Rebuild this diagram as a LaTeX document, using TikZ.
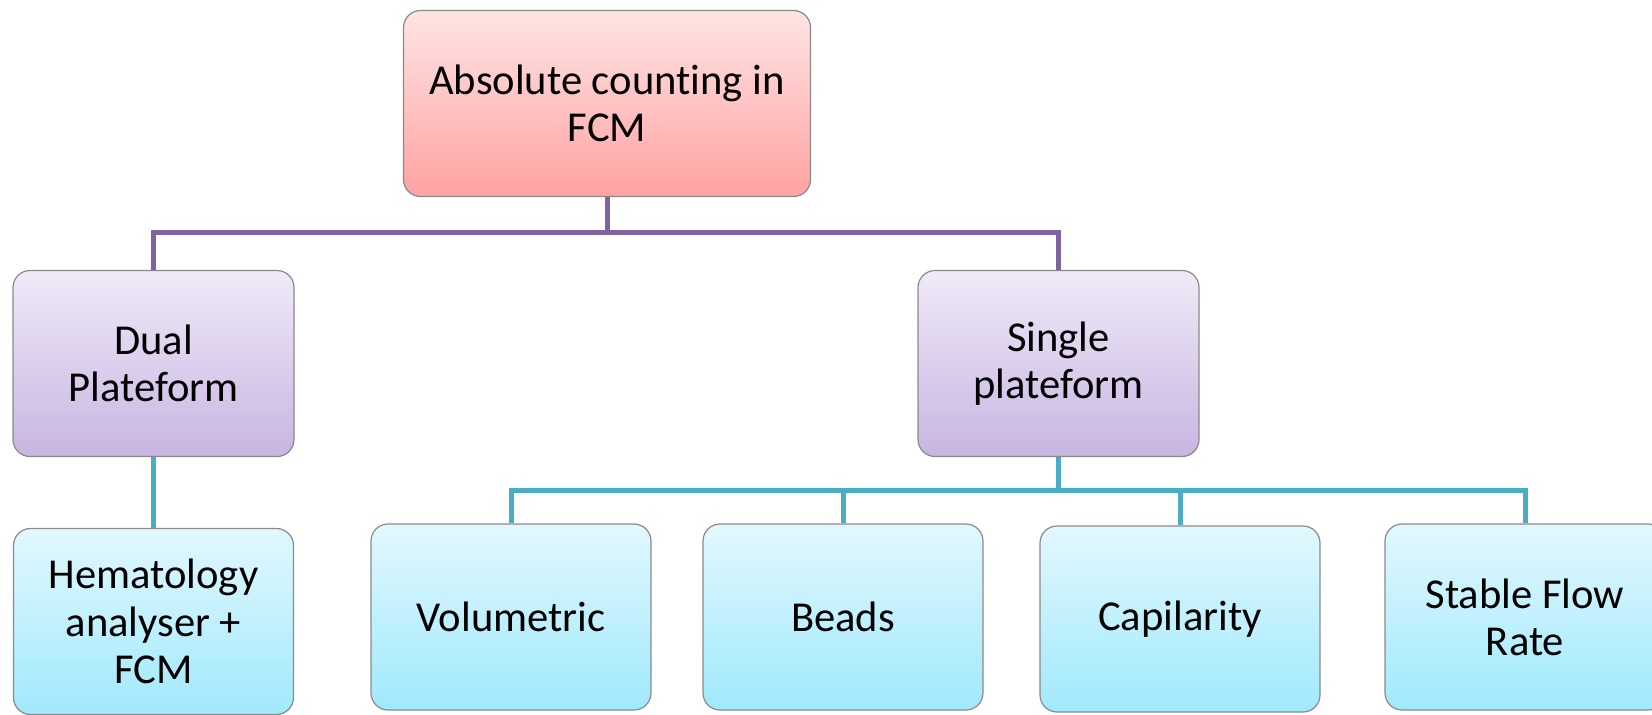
\documentclass[tikz,border=0pt]{standalone}
\usepackage{fontspec}
\setmainfont[Ligatures={NoCommon,NoContextual}]{Carlito}
\usepackage{xcolor}
\usepackage{tikz}
\usetikzlibrary{calc}

\definecolor{pinkhi}{HTML}{FFE4E4}
\definecolor{pinklo}{HTML}{FFA2A2}
\definecolor{lilachi}{HTML}{F0EAF8}
\definecolor{lilaclo}{HTML}{C8B5E2}
\definecolor{aquahi}{HTML}{E2F8FE}
\definecolor{aqualo}{HTML}{A0E9FC}
\definecolor{purplewire}{HTML}{8064A2}
\definecolor{aquawire}{HTML}{4BACC6}
\definecolor{edgegray}{HTML}{8A8A8A}

\tikzset{
  card/.style={draw=edgegray, line width=.6pt, rounded corners=8.5pt,
    align=center, inner sep=0pt, minimum height=93pt,
    font=\fontsize{21.3}{23.6}\selectfont},
  rootcard/.style={card, minimum width=203.5pt, top color=pinkhi, bottom color=pinklo},
  midcard/.style={card, minimum width=140.5pt, top color=lilachi, bottom color=lilaclo},
  leafcard/.style={card, minimum width=140pt, top color=aquahi, bottom color=aqualo},
  pwire/.style={draw=purplewire, line width=2.5pt},
  awire/.style={draw=aquawire, line width=2.5pt}
}

\begin{document}
\begin{tikzpicture}[x=0.5pt,y=-0.5pt]
\useasboundingbox (0,0) rectangle (1652,714);
% top of the tree
\node[rootcard] (root) at (607,103.5) {Absolute counting in\\FCM};
% two platforms
\node[midcard] (dual) at (153.5,363.5) {Dual\\Plateform};
\node[midcard] (single) at (1058.5,363.5) {Single\\plateform};
% methods
\node[leafcard] (hema) at (153.5,621.5) {Hematology\\analyser +\\FCM};
\node[leafcard] (volu) at (511,617) {Volumetric};
\node[leafcard] (bead) at (843,617) {Beads};
\node[leafcard] (capi) at (1180,619) {Capilarity};
\node[leafcard] (sflow) at (1525,617) {Stable Flow\\Rate};
% purple links
\coordinate (pbus) at (607,232);
\draw[pwire] (root.south) -- (pbus) -| (dual.north);%
\draw[pwire] (pbus) -| (single.north);%
% aqua links
\draw[awire] (dual.south) -- (hema.north);%
\coordinate (abus) at (1058.5,490);
\draw[awire] (single.south) -- (abus);%
\foreach \leaf in {volu,bead,capi,sflow}
  \draw[awire] (abus) -| (\leaf.north);
\end{tikzpicture}
\end{document}
